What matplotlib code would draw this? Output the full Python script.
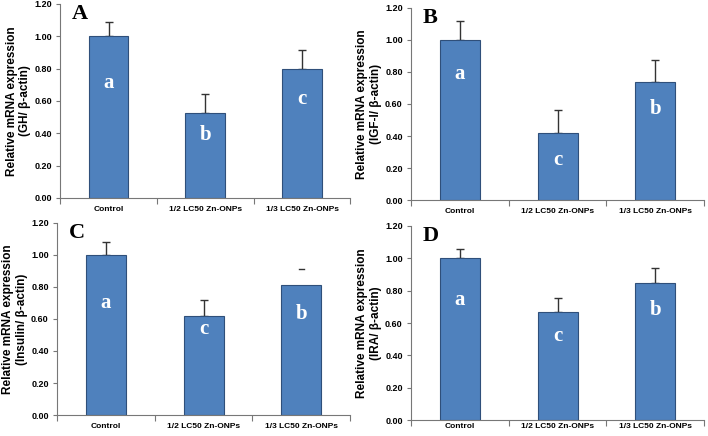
import matplotlib
matplotlib.use("Agg")
import matplotlib.pyplot as plt
import numpy as np

plt.rcParams["font.family"] = ["Liberation Sans", "DejaVu Sans"]

groups = ["Control", "1/2 LC50 Zn-ONPs", "1/3 LC50 Zn-ONPs"]

# relative expression (mean) and upper error per panel
gh = [1.00, 0.525, 0.795]
gh_err = [0.09, 0.115, 0.12]
igf = [1.00, 0.42, 0.74]
igf_err = [0.12, 0.14, 0.135]
ins = [1.00, 0.62, 0.81]
ins_err = [0.08, 0.10, 0.10]
ira = [1.00, 0.67, 0.85]
ira_err = [0.06, 0.085, 0.09]

# significance letters and the height they sit at inside the bars
gh_letters = ["a", "b", "c"]
gh_letter_y = [0.71, 0.39, 0.61]
igf_letters = ["a", "c", "b"]
igf_letter_y = [0.79, 0.25, 0.57]
ins_letters = ["a", "c", "b"]
ins_letter_y = [0.70, 0.54, 0.63]
ira_letters = ["a", "c", "b"]
ira_letter_y = [0.74, 0.52, 0.68]

panels = [
    ("A", "GH/ β-actin", gh, gh_err, gh_letters, gh_letter_y, [0.085, 0.546, 0.410, 0.445]),
    ("B", "IGF-I/ β-actin", igf, igf_err, igf_letters, igf_letter_y, [0.5805, 0.541, 0.414, 0.441]),
    ("C", "Insulin/ β-actin", ins, ins_err, ins_letters, ins_letter_y, [0.0805, 0.048, 0.414, 0.441]),
    ("D", "IRA/ β-actin", ira, ira_err, ira_letters, ira_letter_y, [0.5805, 0.036, 0.414, 0.446]),
]

fig = plt.figure(figsize=(7.08, 4.36), dpi=100)
bar_col = "#4F81BD"
edge_col = "#2F4F7A"

for tag, gene, vals, errs, letters, letter_y, pos in panels:
    ax = fig.add_axes(pos)
    x = np.arange(len(groups))
    ax.bar(x, vals, width=0.41, color=bar_col, edgecolor=edge_col, linewidth=0.8, zorder=2)
    if tag == "C":
        # only the cap of the last error bar is visible in the original
        ax.errorbar(x[:2], vals[:2], yerr=[[0, 0], errs[:2]], fmt="none", ecolor="#333333",
                    elinewidth=1, capsize=3, capthick=1, zorder=1)
        ax.plot([x[2] - 0.025, x[2] + 0.025], [vals[2] + errs[2]] * 2, color="#333333", lw=1)
    else:
        ax.errorbar(x, vals, yerr=[[0] * 3, errs], fmt="none", ecolor="#333333",
                    elinewidth=1, capsize=3, capthick=1, zorder=1)
    for xi, ly, lt in zip(x, letter_y, letters):
        ax.text(xi, ly, lt, ha="center", va="center", color="white",
                fontsize=15, fontweight="bold", family="Liberation Serif")
    ax.set_xlim(-0.5, 2.5)
    ax.set_ylim(0, 1.2)
    ax.set_yticks(np.arange(0, 1.21, 0.2))
    ax.set_yticklabels([f"{t:.2f}" for t in np.arange(0, 1.21, 0.2)], fontsize=6.5, fontweight="bold")
    ax.set_xticks([-0.5, 0.5, 1.5, 2.5])
    ax.set_xticklabels([])
    ax.set_xticks(x, minor=True)
    ax.set_xticklabels(groups, minor=True, fontsize=6, fontweight="bold")
    ax.tick_params(axis="x", which="minor", length=0, pad=2 if tag == "D" else 6)
    ax.tick_params(axis="x", which="major", length=4, direction="out", color="#777777")
    ax.tick_params(axis="y", length=3, color="#777777", pad=3)
    for s in ["top", "right"]:
        ax.spines[s].set_visible(False)
    for s in ["left", "bottom"]:
        ax.spines[s].set_color("#777777")
    ax.set_ylabel("Relative mRNA expression\n(" + gene + ")", fontsize=8.5, fontweight="bold",
                  labelpad=2, linespacing=1.2)
    ax.text(0.04, 1.0, tag, transform=ax.transAxes, ha="left", va="top",
            fontsize=16, fontweight="bold", family="Liberation Serif")

fig.savefig("out.png", dpi=100)
